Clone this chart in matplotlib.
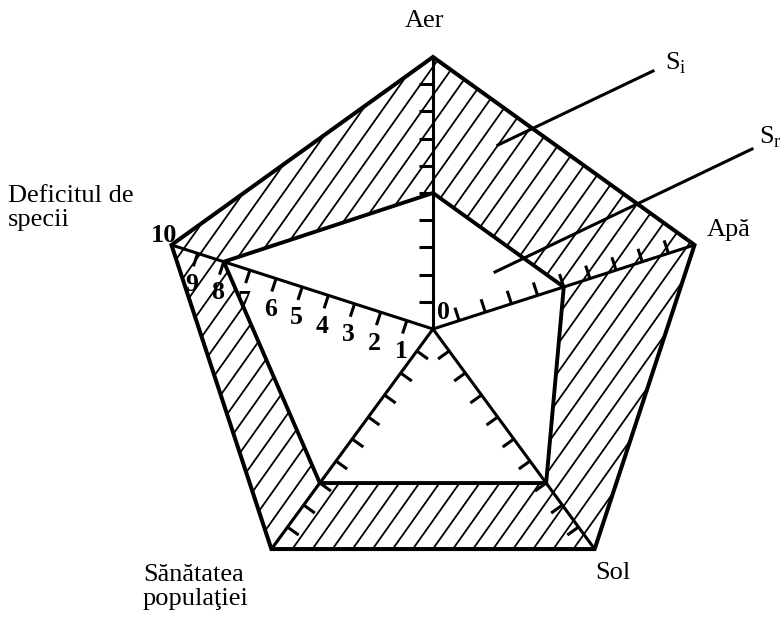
import numpy as np
import matplotlib
matplotlib.use("Agg")
import matplotlib.pyplot as plt
from matplotlib.path import Path
from matplotlib.patches import PathPatch, Polygon
from matplotlib.collections import LineCollection

# axes of the diagram, clockwise from the top
categories = ["Aer", "Apă", "Sol", "Sănătatea\npopulaţiei", "Deficitul de\nspecii"]
si_values = [10, 10, 10, 10, 10]    # S_i - ideal state
sr_values = [5, 5, 7, 7, 8]         # S_r - real state
tick_values = list(range(1, 10))
scale_labels = [str(v) for v in range(0, 11)]

plt.rcParams['font.family'] = ['Liberation Serif', 'DejaVu Serif']
plt.rcParams['mathtext.fontset'] = 'custom'
plt.rcParams['mathtext.rm'] = 'Liberation Serif'

W, H = 784, 618
CX, CY = 433, 329       # centre of the pentagon, pixels
SX, SY = 27.5, 27.2     # pixels per unit


def px(x, y):
    "pixel position -> data coords"
    return (x - CX) / SX, (CY - y) / SY


n = len(categories)
angles = np.deg2rad(90 - 72 * np.arange(n))
ux, uy = np.cos(angles), np.sin(angles)


def polygon(vals):
    v = np.asarray(vals, float)
    return np.column_stack([v * ux, v * uy])


fig = plt.figure(figsize=(W / 100, H / 100), dpi=100)
ax = fig.add_axes([0, 0, 1, 1])
ax.set_xlim(-CX / SX, (W - CX) / SX)
ax.set_ylim((CY - H) / SY, CY / SY)
ax.axis('off')

outer = polygon(si_values)
inner = polygon(sr_values)

# hatched ring between S_i and S_r
verts = np.vstack([outer, outer[:1], inner[::-1], inner[-1:]])
codes = ([Path.MOVETO] + [Path.LINETO] * (n - 1) + [Path.CLOSEPOLY]) * 2
ring = PathPatch(Path(verts, codes), facecolor='none', edgecolor='none')
ax.add_patch(ring)

slope = np.tan(np.deg2rad(55))
ys = np.array([-12.0, 13.0])
segs = [np.column_stack([b + ys / slope, ys]) for b in np.arange(-25, 25, 0.73)]
hatch = LineCollection(segs, colors='black', linewidths=1.3)
hatch.set_clip_path(ring)
ax.add_collection(hatch)

ax.add_patch(Polygon(outer, closed=True, fill=False, lw=2.9, joinstyle='miter'))
ax.add_patch(Polygon(inner, closed=True, fill=False, lw=2.8, joinstyle='miter'))

# axes with ticks
tick_side = [1, 1, -1, 1, 1]
tick_len = 0.5
for i in range(n):
    ax.plot([0, outer[i, 0]], [0, outer[i, 1]], color='black', lw=2.2,
            solid_capstyle='butt')
    a = angles[i] + tick_side[i] * np.pi / 2
    nx, ny = np.cos(a), np.sin(a)
    tsegs = [[(t * ux[i], t * uy[i]), (t * ux[i] + tick_len * nx, t * uy[i] + tick_len * ny)]
             for t in tick_values]
    ax.add_collection(LineCollection(tsegs, colors='black', linewidths=2.2))

# scale numbers on the "Deficitul de specii" axis
k = 4
perp = np.array([np.cos(angles[k] + np.pi / 2), np.sin(angles[k] + np.pi / 2)])
along = np.array([ux[k], uy[k]])
for t in tick_values:
    p = np.array([t * ux[k], t * uy[k]]) + 1.15 * perp - 0.15 * along
    ax.text(p[0], p[1], scale_labels[t], ha='center', va='center',
            fontsize=18.5, fontweight='bold')
ax.text(outer[k, 0] + 0.2, outer[k, 1] + 0.1, scale_labels[10], ha='right',
        va='baseline', fontsize=19, fontweight='bold')
ax.text(0.15, 0.35, scale_labels[0], ha='left', va='baseline',
        fontsize=18.5, fontweight='bold')

# category labels
label_pos = [(424, 21), (707, 230), (613, 573), (143, 587), (8, 208)]
label_ha = ['center', 'left', 'center', 'left', 'left']
for name, (x, y), ha in zip(categories, label_pos, label_ha):
    ax.text(*px(x, y), name, ha=ha, va='center', fontsize=19, linespacing=1.08)

# S_i / S_r pointers
ax.plot(*zip(px(498, 145), px(653, 71)), color='black', lw=2.2)
ax.text(*px(665, 63), r"S$_\mathrm{i}$", ha='left', va='center', fontsize=19)
ax.plot(*zip(px(495, 272), px(752, 149)), color='black', lw=2.2)
ax.text(*px(759, 137), r"S$_\mathrm{r}$", ha='left', va='center', fontsize=19)

fig.savefig("out.png", dpi=100)
